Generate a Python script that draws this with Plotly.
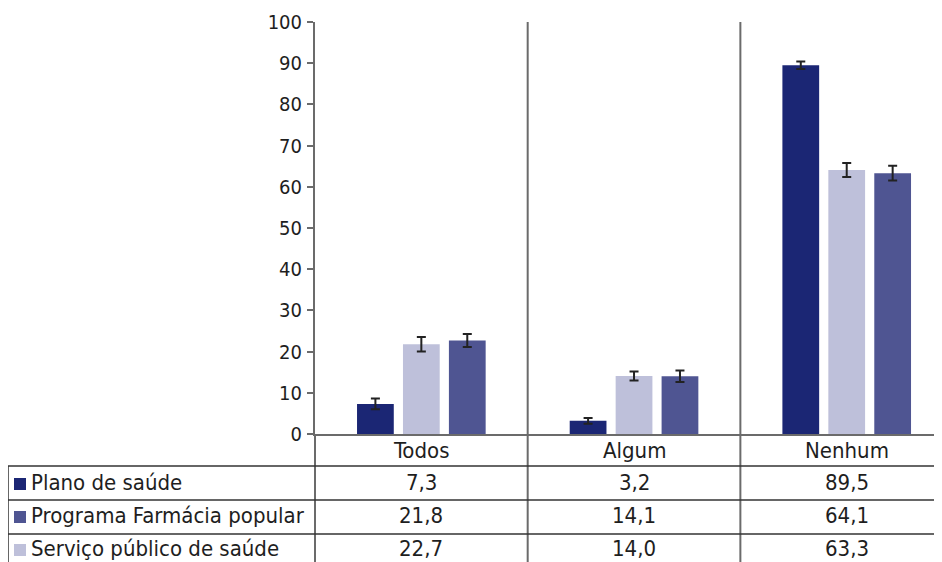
import plotly.graph_objects as go

CATEGORIES = ["Todos", "Algum", "Nenhum"]
SERIES = ["Plano de saúde", "Programa Farmácia popular", "Serviço público de saúde"]
VALUES = {
    "Plano de saúde": [7.3, 3.2, 89.5],
    "Programa Farmácia popular": [21.8, 14.1, 64.1],
    "Serviço público de saúde": [22.7, 14.0, 63.3],
}
ERRORS = {
    "Plano de saúde": [1.3, 0.7, 0.9],
    "Programa Farmácia popular": [1.75, 1.1, 1.7],
    "Serviço público de saúde": [1.6, 1.4, 1.8],
}
VALUE_LABELS = {
    "Plano de saúde": ["7,3", "3,2", "89,5"],
    "Programa Farmácia popular": ["21,8", "14,1", "64,1"],
    "Serviço público de saúde": ["22,7", "14,0", "63,3"],
}
Y_TICKS = [0, 10, 20, 30, 40, 50, 60, 70, 80, 90, 100]

BAR_COLORS = ["#1b2674", "#bec0da", "#4f5592"]
SWATCH_COLORS = ["#1b2674", "#4f5592", "#bec0da"]

OFF = 8  # page body margin
W, H = 942 - OFF, 562 - OFF
L, T = 315 - OFF, 22 - OFF
B = H - (434 - OFF)
PW, PH = W - L, H - T - B


def px_x(p):
    return (p - OFF - L) / PW


def px_y(p):
    return (H - B - (p - OFF)) / PH


FONT = "DejaVu Sans Condensed, sans-serif"
TXT = "#1e1e1e"
FS = 22

fig = go.Figure()
for i, s in enumerate(SERIES):
    fig.add_trace(go.Bar(
        x=CATEGORIES, y=VALUES[s], name=s,
        marker=dict(color=BAR_COLORS[i], line=dict(width=0)),
        error_y=dict(type="data", array=ERRORS[s], visible=True,
                     color="#222222", thickness=2, width=4.5),
    ))

shapes = []
line_grey = dict(color="#6b6b6b", width=2)
tab_line = dict(color="#333333", width=1.5)
bottom = px_y(562 + 5)
shapes.append(dict(type="line", xref="paper", yref="paper", x0=0, x1=0,
                   y0=0, y1=bottom, line=line_grey))
for xs in [0.5, 1.5]:
    shapes.append(dict(type="line", xref="x", yref="paper", x0=xs, x1=xs,
                       y0=1, y1=bottom, line=line_grey))
for yy in [466, 500, 534]:
    shapes.append(dict(type="line", xref="paper", yref="paper", x0=px_x(8), x1=1,
                       y0=px_y(yy), y1=px_y(yy), line=tab_line))
shapes.append(dict(type="line", xref="paper", yref="paper", x0=px_x(8), x1=px_x(8),
                   y0=px_y(466), y1=bottom, line=tab_line))

annotations = []
for c in CATEGORIES:
    annotations.append(dict(x=c, xref="x", y=px_y(450), yref="paper", text=c,
                            showarrow=False, xanchor="center", yanchor="middle",
                            font=dict(family=FONT, size=FS, color=TXT)))
row_y = [482, 515, 548]
for i, s in enumerate(SERIES):
    yc = row_y[i]
    shapes.append(dict(type="rect", xref="paper", yref="paper",
                       x0=px_x(14), x1=px_x(26), y0=px_y(yc - 6 + 2), y1=px_y(yc + 6 + 2),
                       fillcolor=SWATCH_COLORS[i], line=dict(width=0)))
    annotations.append(dict(x=px_x(29), xref="paper", y=px_y(yc), yref="paper", text=s,
                            showarrow=False, xanchor="left", yanchor="middle",
                            font=dict(family=FONT, size=FS, color=TXT)))
    for j, c in enumerate(CATEGORIES):
        annotations.append(dict(x=c, xref="x", y=px_y(yc), yref="paper",
                                text=VALUE_LABELS[s][j], showarrow=False,
                                xanchor="center", yanchor="middle",
                                font=dict(family=FONT, size=FS, color=TXT)))

fig.update_layout(
    width=W, height=H,
    margin=dict(l=L, r=0, t=T, b=B, pad=0),
    paper_bgcolor="white", plot_bgcolor="white",
    barmode="group", bargap=0.352, bargroupgap=0.2,
    showlegend=False,
    font=dict(family=FONT, color=TXT),
    shapes=shapes, annotations=annotations,
    xaxis=dict(range=[-0.5, 2.448], showticklabels=False, ticks="",
               showline=True, linecolor="#6b6b6b", linewidth=2,
               showgrid=False, zeroline=False, fixedrange=True),
    yaxis=dict(range=[0, 100], tickvals=Y_TICKS, ticks="outside", ticklen=6,
               tickcolor="#6b6b6b", tickwidth=1.5, showline=True,
               linecolor="#6b6b6b", linewidth=2, showgrid=False, zeroline=False,
               tickfont=dict(family=FONT, size=20, color=TXT), ticklabelstandoff=1),
)

fig.write_html("out.html")
